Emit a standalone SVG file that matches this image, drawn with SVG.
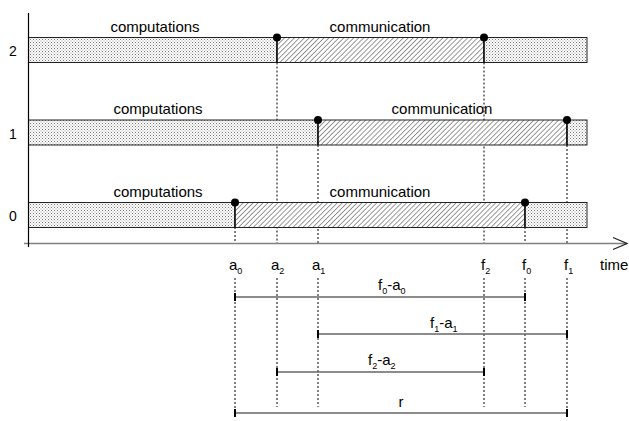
<svg xmlns="http://www.w3.org/2000/svg" width="629" height="421" viewBox="0 0 629 421">
<defs>
<pattern id="dots" width="3" height="3" patternUnits="userSpaceOnUse">
<rect width="3" height="3" fill="#ffffff"/>
<rect x="0" y="0" width="1" height="1" fill="#777777"/>
<rect x="1.5" y="1.5" width="1" height="1" fill="#999999"/>
</pattern>
<pattern id="hatch" width="3.5" height="3.5" patternUnits="userSpaceOnUse" patternTransform="rotate(45)">
<rect width="3.5" height="3.5" fill="#ffffff"/>
<line x1="0" y1="0" x2="0" y2="3.5" stroke="#555555" stroke-width="1.2"/>
</pattern>
</defs>
<style>
text{font-family:"Liberation Sans",Arial,sans-serif;fill:#000}
.lbl{font-size:15px;text-anchor:middle}
.num{font-size:14px;text-anchor:middle}
.sub{font-size:9px}
.bar{stroke:#222;stroke-width:1}
.dash{stroke:#000;stroke-width:1;stroke-dasharray:2,2;fill:none}
.solid{stroke:#000;stroke-width:1.2}
.dim{stroke:#666;stroke-width:1.5}
.end{stroke:#000;stroke-width:2}
</style>

<g id="connectors">
<line class="dash" x1="235" y1="227" x2="235" y2="243"/>
<line class="dash" x1="235" y1="278" x2="235" y2="413"/>
<line class="dash" x1="277" y1="62.5" x2="277" y2="243"/>
<line class="dash" x1="277" y1="278" x2="277" y2="407"/>
<line class="dash" x1="318" y1="145" x2="318" y2="243"/>
<line class="dash" x1="318" y1="278" x2="318" y2="407"/>
<line class="dash" x1="484" y1="62.5" x2="484" y2="243"/>
<line class="dash" x1="484" y1="278" x2="484" y2="407"/>
<line class="dash" x1="525" y1="227" x2="525" y2="243"/>
<line class="dash" x1="525" y1="278" x2="525" y2="407"/>
<line class="dash" x1="567" y1="145" x2="567" y2="243"/>
<line class="dash" x1="567" y1="278" x2="567" y2="413"/>
</g>

<g id="row2">
<rect class="bar" x="28.5" y="37.5" width="248.5" height="25" fill="url(#dots)"/>
<rect class="bar" x="277" y="37.5" width="207" height="25" fill="url(#hatch)"/>
<rect class="bar" x="484" y="37.5" width="103" height="25" fill="url(#dots)"/>
<line class="solid" x1="277" y1="37.5" x2="277" y2="62.5"/>
<line class="solid" x1="484" y1="37.5" x2="484" y2="62.5"/>
<circle cx="277" cy="37.5" r="4" fill="#000"/>
<circle cx="484" cy="37.5" r="4" fill="#000"/>
<text class="lbl" x="155" y="32">computations</text>
<text class="lbl" x="380" y="32">communication</text>
<text class="num" x="13" y="56">2</text>
</g>

<g id="row1">
<rect class="bar" x="28.5" y="120" width="289.5" height="25" fill="url(#dots)"/>
<rect class="bar" x="318" y="120" width="249" height="25" fill="url(#hatch)"/>
<rect class="bar" x="567" y="120" width="20" height="25" fill="url(#dots)"/>
<line class="solid" x1="318" y1="120" x2="318" y2="145"/>
<line class="solid" x1="567" y1="120" x2="567" y2="145"/>
<circle cx="318" cy="120" r="4" fill="#000"/>
<circle cx="567" cy="120" r="4" fill="#000"/>
<text class="lbl" x="158" y="114">computations</text>
<text class="lbl" x="442" y="114">communication</text>
<text class="num" x="13" y="138.5">1</text>
</g>

<g id="row0">
<rect class="bar" x="28.5" y="202.5" width="206.5" height="25" fill="url(#dots)"/>
<rect class="bar" x="235" y="202.5" width="290" height="25" fill="url(#hatch)"/>
<rect class="bar" x="525" y="202.5" width="62" height="25" fill="url(#dots)"/>
<line class="solid" x1="235" y1="202.5" x2="235" y2="227.5"/>
<line class="solid" x1="525" y1="202.5" x2="525" y2="227.5"/>
<circle cx="235" cy="202.5" r="4" fill="#000"/>
<circle cx="525" cy="202.5" r="4" fill="#000"/>
<text class="lbl" x="158" y="197">computations</text>
<text class="lbl" x="380" y="197">communication</text>
<text class="num" x="13" y="221">0</text>
</g>

<g id="axes">
<line x1="24" y1="243.5" x2="627" y2="243.5" stroke="#808080" stroke-width="1.5"/>
<polyline points="613,237.5 627,243.5 613,249.5" fill="none" stroke="#222" stroke-width="1.3"/>
<line x1="28.5" y1="13" x2="28.5" y2="247" stroke="#000" stroke-width="1.2"/>
<text x="600" y="270" style="font-size:15px">time</text>
</g>

<g id="ticklabels">
<text x="229" y="270" style="font-size:15px">a<tspan class="sub" dy="4">0</tspan></text>
<text x="271" y="270" style="font-size:15px">a<tspan class="sub" dy="4">2</tspan></text>
<text x="312" y="270" style="font-size:15px">a<tspan class="sub" dy="4">1</tspan></text>
<text x="481" y="270" style="font-size:15px">f<tspan class="sub" dy="4">2</tspan></text>
<text x="522" y="270" style="font-size:15px">f<tspan class="sub" dy="4">0</tspan></text>
<text x="564" y="270" style="font-size:15px">f<tspan class="sub" dy="4">1</tspan></text>
</g>

<g id="dim-f0a0">
<line class="dim" x1="235" y1="297" x2="525" y2="297"/>
<line class="end" x1="235" y1="293" x2="235" y2="301"/>
<line class="end" x1="525" y1="293" x2="525" y2="301"/>
<text x="378" y="290" style="font-size:15px">f<tspan class="sub" dy="4">0</tspan><tspan dy="-4">-a</tspan><tspan class="sub" dy="4">0</tspan></text>
</g>

<g id="dim-f1a1">
<line class="dim" x1="318" y1="334" x2="567" y2="334"/>
<line class="end" x1="318" y1="330" x2="318" y2="338"/>
<line class="end" x1="567" y1="330" x2="567" y2="338"/>
<text x="430" y="328" style="font-size:15px">f<tspan class="sub" dy="4">1</tspan><tspan dy="-4">-a</tspan><tspan class="sub" dy="4">1</tspan></text>
</g>

<g id="dim-f2a2">
<line class="dim" x1="277" y1="372" x2="484" y2="372"/>
<line class="end" x1="277" y1="368" x2="277" y2="376"/>
<line class="end" x1="484" y1="368" x2="484" y2="376"/>
<text x="368" y="365" style="font-size:15px">f<tspan class="sub" dy="4">2</tspan><tspan dy="-4">-a</tspan><tspan class="sub" dy="4">2</tspan></text>
</g>

<g id="dim-r">
<line class="dim" x1="235" y1="413" x2="567" y2="413"/>
<line class="end" x1="235" y1="409" x2="235" y2="417"/>
<line class="end" x1="567" y1="409" x2="567" y2="417"/>
<text class="lbl" x="401" y="407">r</text>
</g>
</svg>
